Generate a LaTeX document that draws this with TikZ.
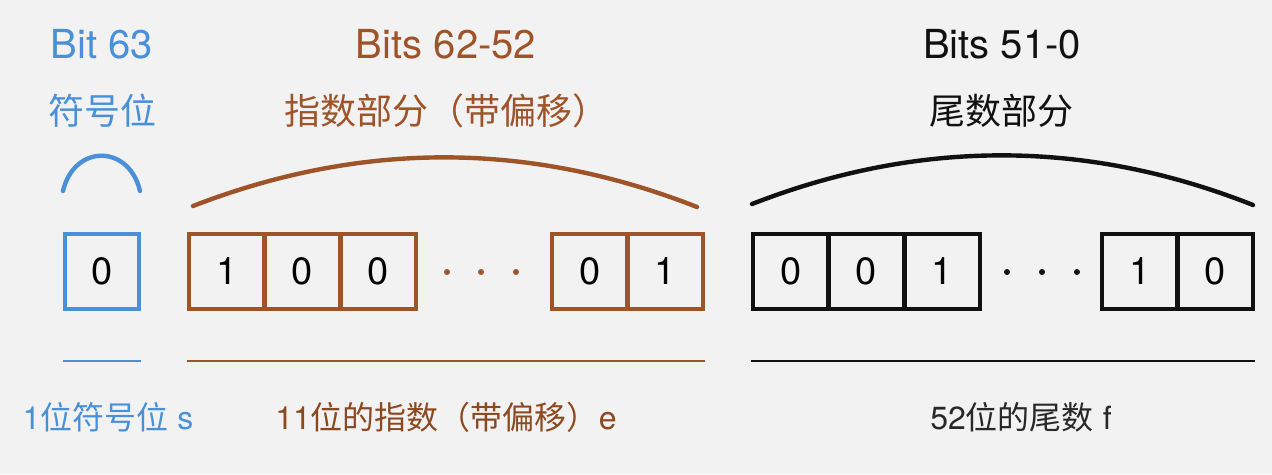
\documentclass[tikz,border=0pt]{standalone}
\usepackage{fontspec}
\setmainfont{TeX Gyre Heros}
\newfontfamily\cjk{Noto Sans CJK SC}
\newcommand{\zh}[1]{{\cjk #1}}
\definecolor{sblue}{RGB}{74,144,217}
\definecolor{ebrown}{RGB}{158,84,40}
\definecolor{ebrowntext}{RGB}{140,72,30}
\definecolor{fblack}{RGB}{17,17,17}
\definecolor{ftext}{RGB}{40,40,40}
\definecolor{bg}{RGB}{242,242,243}
\begin{document}
\begin{tikzpicture}[x=1pt,y=-1pt,
  cell/.style={draw,line width=4.6pt,minimum width=75.6pt,minimum height=75pt,inner sep=0pt,outer sep=0pt,font=\fontsize{38}{40}\selectfont,text=black},
  dotn/.style={circle,fill,inner sep=0pt,minimum size=6pt},
  arcline/.style={line width=4.4pt,line cap=round},
  uline/.style={line width=2.6pt},
  toplab/.style={font=\fontsize{40}{48}\selectfont,anchor=base,inner sep=0pt},
  zhlab/.style={font=\fontsize{36}{44}\selectfont\cjk,inner sep=0pt},
  botlab/.style={font=\fontsize{32}{40}\selectfont,inner sep=0pt}]
\fill[bg] (0,0) rectangle (1272,474);
\useasboundingbox (0,0) rectangle (1272,474);

% top labels
\node[toplab,text=sblue] (t1) at (102,58) {Bit 63};
\node[toplab,text=ebrown] (t2) at (446,58) {Bits 62-52};
\node[toplab,text=fblack] (t3) at (1002,58) {Bits 51-0};
\node[zhlab,text=sblue] (z1) at (102,111) {符号位};
\node[zhlab,text=ebrown] (z2) at (446,111) {指数部分（带偏移）};
\node[zhlab,text=fblack] (z3) at (1001,111) {尾数部分};

% arcs
\coordinate (a1s) at (63,191);
\coordinate (a1e) at (140,191);
\draw[arcline,sblue] (a1s) .. controls (74,144) and (129,144) .. (a1e);
\coordinate (a2s) at (193,206);
\coordinate (a2e) at (697,207);
\draw[arcline,ebrown] (a2s) .. controls (361,141) and (529,141) .. (a2e);
\coordinate (a3s) at (752,204);
\coordinate (a3e) at (1253,205);
\draw[arcline,fblack] (a3s) .. controls (919,139) and (1086,139) .. (a3e);

% cells
\node[cell,draw=sblue,line width=4.2pt,minimum width=74pt] (s0) at (102,271.5) {0};
\node[cell,draw=ebrown] (e1) at (226.8,271.5) {1};
\node[cell,draw=ebrown] (e2) at (302.5,271.5) {0};
\node[cell,draw=ebrown] (e3) at (378.2,271.5) {0};
\node[dotn,ebrown] (ed1) at (447,272) {};
\node[dotn,ebrown] (ed2) at (481,272) {};
\node[dotn,ebrown] (ed3) at (516,272) {};
\node[cell,draw=ebrown] (e4) at (589.7,271.5) {0};
\node[cell,draw=ebrown] (e5) at (665.2,271.5) {1};
\node[cell,draw=fblack] (f1) at (790.8,271.5) {0};
\node[cell,draw=fblack] (f2) at (866.5,271.5) {0};
\node[cell,draw=fblack] (f3) at (942.2,271.5) {1};
\node[dotn,fblack] (fd1) at (1007,272) {};
\node[dotn,fblack] (fd2) at (1042,272) {};
\node[dotn,fblack] (fd3) at (1077,272) {};
\node[cell,draw=fblack] (f4) at (1139.7,271.5) {1};
\node[cell,draw=fblack] (f5) at (1215.2,271.5) {0};

% underlines
\coordinate (u1s) at (63,361); \coordinate (u1e) at (141,361);
\coordinate (u2s) at (187,361); \coordinate (u2e) at (705,361);
\coordinate (u3s) at (751,361); \coordinate (u3e) at (1255,361);
\draw[uline,sblue] (u1s) -- (u1e);
\draw[uline,ebrown] (u2s) -- (u2e);
\draw[uline,fblack] (u3s) -- (u3e);

% bottom labels
\node[botlab,text=sblue] (b1) at (108,417) {1\zh{位符号位} s};
\node[botlab,text=ebrowntext] (b2) at (446,417) {11\zh{位的指数（带偏移）}e};
\node[botlab,text=ftext] (b3) at (1021,417) {52\zh{位的尾数} f};
\end{tikzpicture}
\end{document}
